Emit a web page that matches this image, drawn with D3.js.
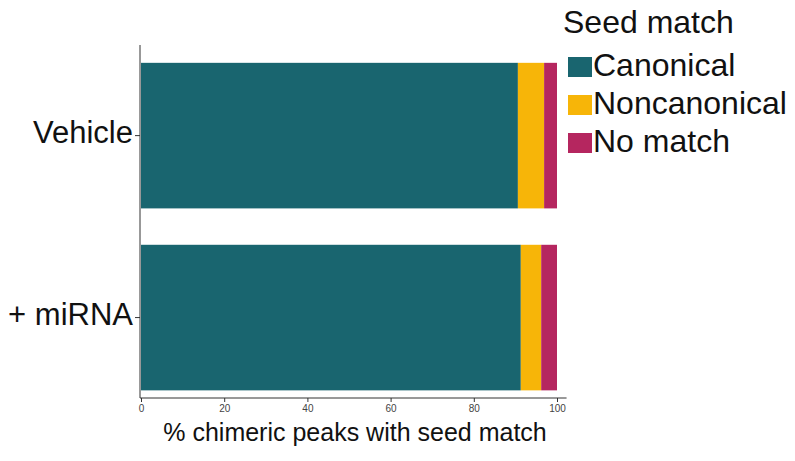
<!DOCTYPE html>
<html>
<head>
<meta charset="utf-8">
<script src="https://cdn.jsdelivr.net/npm/d3@7"></script>
<style>
  html, body { margin: 0; padding: 0; background: #fff; }
  svg { display: block; font-family: "Liberation Sans", Arial, Helvetica, sans-serif; }
</style>
</head>
<body>
<svg id="chart" width="795" height="461"></svg>
<script>
// Conditions (top to bottom) and stacked percentages per seed-match class
const conditions = ["Vehicle", "+ miRNA"];
const seedClasses = ["Canonical", "Noncanonical", "No match"];
const canonical = [90.6, 91.3];
const noncanonical = [6.3, 4.9];
const noMatch = [3.1, 3.8];
const xTicks = [0, 20, 40, 60, 80, 100];
const classColors = ["#19656f", "#f7b508", "#b5265f"];

const rows = conditions.map((c, i) => ({
  condition: c,
  "Canonical": canonical[i],
  "Noncanonical": noncanonical[i],
  "No match": noMatch[i]
}));

const svg = d3.select("#chart");

const x = d3.scaleLinear().domain([0, 100]).range([141, 557]);
const y = d3.scaleBand().domain(conditions).range([45, 398])
  .paddingInner(0.2).paddingOuter(0.07).align(0.7);
const color = d3.scaleOrdinal().domain(seedClasses).range(classColors);

const stacked = d3.stack().keys(seedClasses)(rows);

// Stacked bars
svg.append("g").selectAll("g")
  .data(stacked)
  .join("g")
  .attr("fill", d => color(d.key))
  .selectAll("rect")
  .data(d => d)
  .join("rect")
  .attr("x", d => x(d[0]))
  .attr("width", d => x(d[1]) - x(d[0]))
  .attr("y", d => y(d.data.condition))
  .attr("height", y.bandwidth());

// X axis
const xAxis = svg.append("g")
  .attr("transform", "translate(0,398)")
  .call(d3.axisBottom(x).tickValues(xTicks).tickSize(4).tickPadding(3).tickSizeOuter(0));
xAxis.select(".domain").attr("d", `M${x(0) - 1},0H${x(102.3)}`).attr("stroke", "#333");
xAxis.selectAll(".tick line").attr("stroke", "#333");
xAxis.selectAll(".tick text")
  .attr("font-size", 10)
  .attr("fill", "#444")
  .attr("font-family", "Liberation Sans, Arial, sans-serif");

// Y axis
const yAxis = svg.append("g")
  .attr("transform", "translate(140,0)")
  .call(d3.axisLeft(y).tickSize(5).tickPadding(2).tickSizeOuter(0));
yAxis.select(".domain").attr("d", "M0,45V398").attr("stroke", "#333");
yAxis.selectAll(".tick line").attr("stroke", "#333");
yAxis.selectAll(".tick text")
  .attr("font-size", 31)
  .attr("fill", "#111")
  .attr("dy", "0.25em")
  .attr("font-family", "Liberation Sans, Arial, sans-serif");

// X axis title
svg.append("text")
  .attr("x", (x(0) + x(100)) / 2 + 6)
  .attr("y", 441)
  .attr("text-anchor", "middle")
  .attr("font-size", 25)
  .attr("fill", "#111")
  .text("% chimeric peaks with seed match");

// Legend
const legend = svg.append("g");
legend.append("text")
  .attr("x", 563)
  .attr("y", 33)
  .attr("font-size", 32)
  .attr("fill", "#111")
  .text("Seed match");

const item = legend.selectAll("g.item")
  .data(seedClasses)
  .join("g")
  .attr("class", "item")
  .attr("transform", (d, i) => `translate(568,${57 + i * 38})`);
item.append("rect")
  .attr("width", 24)
  .attr("height", 20)
  .attr("fill", d => color(d));
item.append("text")
  .attr("x", 25)
  .attr("y", 19)
  .attr("font-size", 32)
  .attr("fill", "#111")
  .text(d => d);
</script>
</body>
</html>
